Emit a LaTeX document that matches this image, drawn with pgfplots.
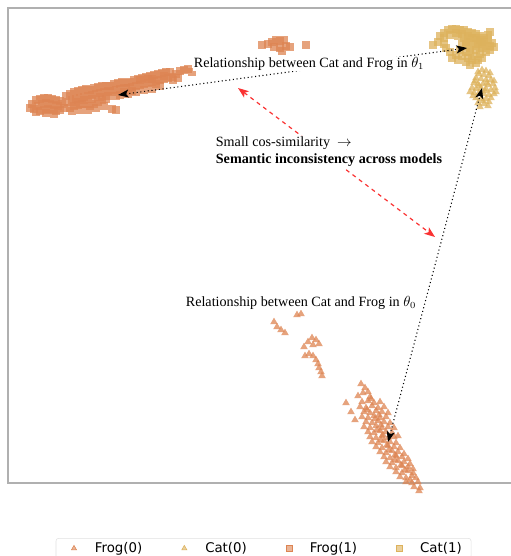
\documentclass[border=0pt]{standalone}
\usepackage{pgfplots}
\pgfplotsset{compat=1.18}
\usepackage{fontspec}
\setmainfont{Liberation Serif}
\newfontfamily\dejavu{DejaVu Sans}
\usetikzlibrary{arrows.meta}
\definecolor{frog}{RGB}{221,132,82}
\definecolor{cat}{RGB}{221,178,92}
\definecolor{frameg}{RGB}{176,176,176}
\definecolor{redarr}{RGB}{250,50,50}
\begin{document}
\begin{tikzpicture}
\useasboundingbox (0,0) rectangle (382.5pt,417pt);
\begin{axis}[
  at={(6pt,54.75pt)}, anchor=south west,
  width=381pt, height=356.25pt, scale only axis,
  xmin=8, xmax=516, ymin=8, ymax=483, y dir=reverse,
  xtick=\empty, ytick=\empty,
  axis line style={frameg, line width=0.8pt},
  clip=false,
  legend columns=4,
  legend cell align=left,
  legend image code/.code={\path[draw=none,fill=none] (0pt,-3pt) rectangle (22.2pt,3pt); \draw[#1, mark size=2.2pt, mark options={fill opacity=0.6}] plot coordinates {(8.5pt,0pt)};},
  legend style={at={(0.503,-0.1158)}, anchor=north, draw=black!12, rounded corners=2pt,
    font=\dejavu\fontsize{10}{12}\selectfont,
    /tikz/every even column/.append style={column sep=21pt},
    inner xsep=5pt, inner ysep=1pt},
]
\addplot[only marks, mark=triangle*, mark size=3.3pt, color=frog, mark options={fill=frog, draw opacity=0, fill opacity=0.75}] coordinates {
(297,315)(301,314)(274,322)(277,327)(281,330)(285,333)(304,347)(308,342)(312,338)(316,340)(319,344)(313,345)(305,356)(309,354)(313,356)(316,360)(318,364)(319,368)(321,372)(322,376)
(361,384)(365,388)(368,392)(363,393)(370,397)(358,396)(346,403)(351,412)(355,420)
(362,402)(368,401)(374,403)(380,402)(371,399)
(360,407)(366,408)(372,406)(378,408)(384,407)
(364,412)(370,413)(376,411)(382,412)(388,413)(367,410)(379,415)
(362,417)(368,418)(374,416)(380,418)(386,417)
(366,422)(372,423)(378,421)(384,422)(390,423)(375,419)(381,425)
(364,427)(370,428)(376,426)(382,428)(388,427)(394,428)
(368,432)(374,433)(380,431)(386,432)(392,433)(377,430)(383,435)
(370,437)(376,438)(382,436)(388,438)(394,437)(398,436)
(372,442)(378,443)(384,441)(390,442)(396,443)(381,440)(387,445)
(376,447)(382,448)(388,446)(394,447)(400,448)
(380,452)(386,453)(392,451)(398,452)(404,454)(389,450)(395,455)
(384,457)(390,458)(396,456)(402,457)(408,459)
(386,462)(392,463)(398,461)(404,462)(410,464)(395,460)(401,465)
(390,467)(396,468)(402,466)(408,467)(413,469)
(396,472)(402,473)(408,471)(413,473)(405,470)
(400,477)(406,478)(412,476)(416,478)
(406,482)(412,483)(418,482)(410,480)
(414,487)(420,488)(419,491)
};
\addlegendentry{Frog(0)}
\addplot[only marks, mark=triangle*, mark size=3.3pt, color=cat, mark options={fill=cat, draw opacity=0, fill opacity=0.75}] coordinates {
(482,70)(486,71)(479,74)(484,75)(489,76)(476,78)(481,79)(486,80)(491,80)(474,83)(478,84)(483,84)(488,85)(493,84)
(472,88)(476,89)(481,88)(486,89)(491,90)(495,88)(474,93)(479,93)(484,94)(489,95)(494,94)
(476,98)(481,99)(486,99)(491,98)(478,103)(484,104)(489,102)(480,107)(470,92)(496,92)(485,91)(479,86)(487,83)
(478,72)(490,73)(473,96)(483,101)(488,106)(475,81)(494,81)
};
\addlegendentry{Cat(0)}
\addplot[only marks, mark=square*, mark size=3pt, color=frog, mark options={fill=frog, draw opacity=0, fill opacity=0.75}] coordinates {
(32,104)(36,100)(40,99)(44,98)(48,98)(52,99)(56,100)(60,101)(34,109)(38,106)(42,104)(46,103)(50,104)(54,105)(58,106)(62,104)
(36,112)(40,111)(44,110)(48,109)(52,110)(56,111)(60,110)(30,108)(64,108)(46,113)(54,114)
(66,96)(70,94)(74,92)(78,91)(82,90)(86,89)(90,90)(94,88)(98,87)(102,86)(106,86)
(68,102)(72,100)(76,99)(80,98)(84,97)(88,96)(92,95)(96,94)(100,93)(104,92)(108,91)
(70,108)(74,106)(78,105)(82,104)(86,104)(90,106)(94,104)(98,102)(102,100)(106,99)
(72,111)(80,110)(88,110)(96,108)(104,106)(112,109)(116,110)
(110,86)(114,84)(118,83)(122,82)(126,83)(130,82)(134,80)(138,79)(142,78)(146,77)(150,76)(154,75)(158,74)(162,73)(166,72)(170,72)
(112,92)(116,90)(120,89)(124,88)(128,88)(132,87)(136,86)(140,85)(144,84)(148,83)(152,82)(156,81)(160,80)(164,79)(168,78)(172,77)
(120,95)(128,94)(136,92)(144,90)(152,89)(160,86)(140,80)(148,79)(176,74)(180,71)(184,70)(188,69)(192,72)(178,78)(156,84)(173,80)
(132,91)(124,92)(116,96)(108,96)(100,97)(92,99)(84,100)(76,102)(164,76)(152,79)
(262,45)(268,44)(272,42)(276,40)(280,41)(284,40)(274,47)(280,48)(286,46)(290,47)(306,45)(282,51)
};
\addlegendentry{Frog(1)}
\addplot[only marks, mark=square*, mark size=3pt, color=cat, mark options={fill=cat, draw opacity=0, fill opacity=0.75}] coordinates {
(433,45)(444,33)(448,30)(452,29)(456,29)(460,30)(464,30)(468,32)(472,33)(476,34)(480,36)(484,38)(488,40)(492,43)(494,47)
(490,50)(486,52)(480,54)(474,56)(468,58)(466,62)(470,65)(476,63)(444,38)(444,44)(446,48)(450,52)(456,55)(462,56)(466,52)
(470,48)(474,44)(478,42)(482,44)(486,46)(470,40)(464,38)(458,36)(462,44)(466,46)(476,50)(482,48)(452,58)(458,60)(488,35)
(438,42)(440,36)(456,33)(472,38)(480,40)(490,32)(478,60)
(450,35)(462,34)(468,36)(476,38)(484,42)(490,46)(470,52)(460,50)(478,46)(472,60)(482,58)(466,42)
};
\addlegendentry{Cat(1)}
\coordinate (A1) at (axis cs:118,95);
\coordinate (A2) at (axis cs:467,48);
\coordinate (B1) at (axis cs:388,442);
\coordinate (B2) at (axis cs:482,88);
\coordinate (C1) at (axis cs:238,88);
\coordinate (C2) at (axis cs:435,237);
\coordinate (T1) at (axis cs:309,64);
\coordinate (T0) at (axis cs:301,303);
\coordinate (T2) at (axis cs:329,152);
\end{axis}
\draw[dotted, line width=0.8pt, {Stealth[length=8pt,width=6pt,inset=2pt]}-{Stealth[length=8pt,width=6pt,inset=2pt]}] (A1) -- (A2);
\draw[dotted, line width=0.8pt, {Stealth[length=8pt,width=6pt,inset=2pt]}-{Stealth[length=8pt,width=6pt,inset=2pt]}] (B1) -- (B2);
\draw[redarr, dashed, line width=0.9pt, {Stealth[length=8pt,width=6pt,inset=2pt]}-{Stealth[length=8pt,width=6pt,inset=2pt]}] (C1) -- (C2);
\node[fill=white, inner sep=0.5pt, font=\fontsize{10.6}{12}\selectfont] at (T1) {Relationship between Cat and Frog in $\theta_1$};
\node[fill=white, inner sep=0.5pt, font=\fontsize{10.6}{12}\selectfont] at (T0) {Relationship between Cat and Frog in $\theta_0$};
\node[fill=white, inner sep=1pt, align=left, font=\fontsize{10.6}{12.8}\selectfont] at (T2) {Small cos-similarity~~$\rightarrow$\\\textbf{Semantic inconsistency across models}};
\end{tikzpicture}
\end{document}
